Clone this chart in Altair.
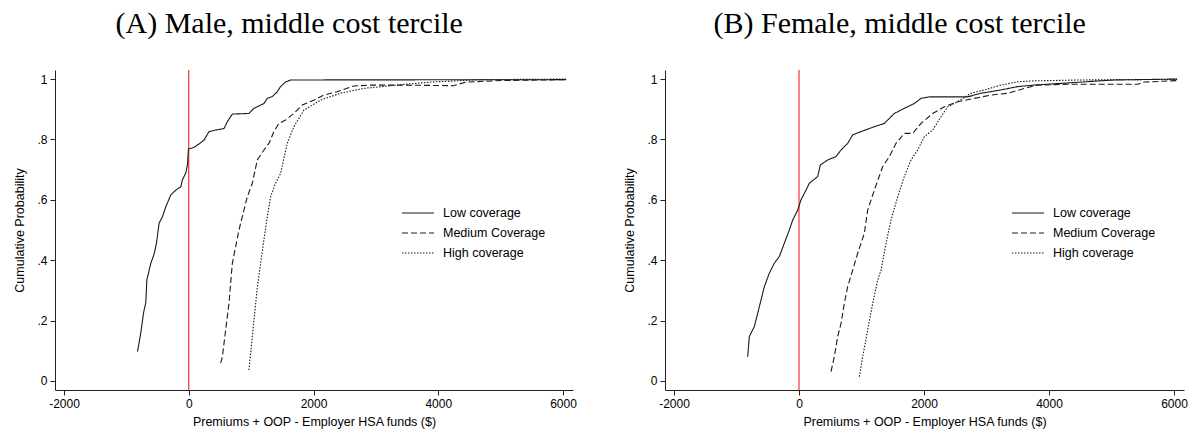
import altair as alt
import pandas as pd

# ---------------- data ----------------
SERIES = ["Low coverage", "Medium Coverage", "High coverage"]

# Panel A: Male, middle cost tercile
a_low_x = [-821, -768, -725, -688, -672, -608, -555, -517, -475, -421, -368, -288, -208, -128,
           -101, -48, -21, -5, 85, 165, 245, 325, 432, 565, 619, 699, 965, 1045, 1205, 1259,
           1339, 1419, 1472, 1552, 1632, 6050]
a_low_y = [0.097, 0.16, 0.225, 0.26, 0.334, 0.39, 0.42, 0.457, 0.523, 0.544, 0.577, 0.616, 0.632,
           0.643, 0.666, 0.689, 0.715, 0.768, 0.774, 0.785, 0.798, 0.826, 0.831, 0.836, 0.859,
           0.884, 0.886, 0.903, 0.919, 0.936, 0.942, 0.958, 0.975, 0.99, 0.997, 0.998]
a_med_x = [512, 539, 592, 645, 699, 752, 805, 885, 939, 1019, 1099, 1205, 1285, 1365, 1445, 1552,
           1685, 1819, 2005, 2165, 2379, 2645, 2912, 3440, 4240, 4450, 5000, 6050]
a_med_y = [0.059, 0.08, 0.169, 0.257, 0.39, 0.445, 0.5, 0.566, 0.61, 0.655, 0.732, 0.765, 0.787,
           0.826, 0.853, 0.864, 0.886, 0.914, 0.93, 0.947, 0.958, 0.977, 0.98, 0.98, 0.978, 0.99,
           0.995, 0.998]
a_high_x = [965, 992, 1045, 1099, 1152, 1205, 1259, 1312, 1392, 1472, 1579, 1685, 1845, 2112, 2432,
            2805, 3339, 3872, 4672, 6050]
a_high_y = [0.036, 0.091, 0.2, 0.31, 0.39, 0.467, 0.544, 0.61, 0.655, 0.687, 0.787, 0.842, 0.897,
            0.93, 0.953, 0.969, 0.98, 0.99, 0.998, 1.0]

# Panel B: Female, middle cost tercile
b_low_x = [-821, -795, -715, -661, -608, -555, -475, -395, -315, -235, -155, -101, -21, 32, 112,
           165, 299, 341, 459, 592, 672, 779, 859, 992, 1205, 1365, 1525, 1685, 1845, 1952, 2085,
           2699, 2912, 3232, 3499, 3760, 5040, 6050]
b_low_y = [0.08, 0.147, 0.18, 0.224, 0.268, 0.312, 0.357, 0.39, 0.412, 0.456, 0.5, 0.533, 0.566,
           0.6, 0.632, 0.655, 0.677, 0.715, 0.732, 0.743, 0.765, 0.787, 0.815, 0.826, 0.842, 0.853,
           0.886, 0.903, 0.919, 0.936, 0.941, 0.941, 0.953, 0.964, 0.975, 0.98, 0.997, 1.0]
b_med_x = [512, 565, 619, 672, 725, 779, 859, 939, 992, 1045, 1099, 1205, 1339, 1445, 1552, 1685,
           1819, 1952, 2139, 2325, 2539, 2805, 3072, 3339, 3605, 3819, 4352, 5424, 5520, 6050]
b_med_y = [0.031, 0.08, 0.147, 0.19, 0.257, 0.312, 0.367, 0.423, 0.456, 0.489, 0.566, 0.632, 0.71,
           0.743, 0.787, 0.82, 0.82, 0.853, 0.886, 0.908, 0.925, 0.936, 0.947, 0.953, 0.969, 0.98,
           0.983, 0.983, 0.99, 0.995]
b_high_x = [965, 1019, 1099, 1179, 1259, 1312, 1392, 1472, 1579, 1685, 1792, 1899, 2005, 2139,
            2272, 2379, 2539, 2752, 2965, 3232, 3499, 3760, 4500, 6050]
b_high_y = [0.014, 0.08, 0.169, 0.257, 0.334, 0.367, 0.456, 0.533, 0.61, 0.677, 0.732, 0.765,
            0.809, 0.831, 0.875, 0.908, 0.925, 0.953, 0.964, 0.98, 0.991, 0.994, 0.997, 0.999]

PANEL_TITLES = ["(A) Male, middle cost tercile", "(B) Female, middle cost tercile"]
X_TICKS = [-2000, 0, 2000, 4000, 6000]
Y_TICKS = [0, 0.2, 0.4, 0.6, 0.8, 1]
X_TITLE = "Premiums + OOP - Employer HSA funds ($)"
Y_TITLE = "Cumulative Probability"

# ---------------- build ----------------
def frame(series_xy):
    rows = []
    for name, xs, ys in series_xy:
        for i, (x, y) in enumerate(zip(xs, ys)):
            rows.append({"x": x, "y": y, "series": name, "order": i})
    return pd.DataFrame(rows)

SANS = "Liberation Sans"
SERIF = "Liberation Serif"

x_scale = alt.Scale(domain=[-2144, 6160], nice=False, zero=False)
y_scale = alt.Scale(domain=[-0.03, 1.03], nice=False, zero=False)


def panel(df, title, width, height):
    lines = alt.Chart(df).mark_line(strokeWidth=1.1, color="#1a1a1a", clip=True).encode(
        x=alt.X("x:Q", scale=x_scale,
                axis=alt.Axis(values=X_TICKS, title=X_TITLE, labelExpr="'' + datum.value",
                              titlePadding=6)),
        y=alt.Y("y:Q", scale=y_scale,
                axis=alt.Axis(values=Y_TICKS, title=Y_TITLE,
                              labelExpr="replace(format(datum.value, '.1~f'), '0.', '.')")),
        strokeDash=alt.StrokeDash(
            "series:N",
            scale=alt.Scale(domain=SERIES, range=[[1, 0], [6, 3], [1.5, 1.5]]),
            legend=alt.Legend(title=None, orient="none", legendX=354, legendY=134,
                              symbolType="M-2,0H2", symbolSize=256,
                              symbolStrokeWidth=1.1, symbolStrokeColor="#1a1a1a",
                              labelFont=SANS, labelFontSize=12.5, labelColor="black",
                              labelOffset=16, rowPadding=4),
        ),
        detail="series:N",
        order="order:Q",
    )
    zero = alt.Chart(pd.DataFrame({"x": [0]})).mark_rule(color="#ff1a1a", strokeWidth=1.1).encode(
        x=alt.X("x:Q", scale=x_scale)
    )
    return alt.layer(zero, lines).properties(
        width=width, height=height,
        title=alt.TitleParams(title, anchor="middle", frame="bounds", font=SERIF,
                              fontSize=30, fontWeight="normal", color="black", offset=30,
                              dx=-6),
    )


dfA = frame([(SERIES[0], a_low_x, a_low_y), (SERIES[1], a_med_x, a_med_y),
             (SERIES[2], a_high_x, a_high_y)])
dfB = frame([(SERIES[0], b_low_x, b_low_y), (SERIES[1], b_med_x, b_med_y),
             (SERIES[2], b_high_x, b_high_y)])

chart = alt.hconcat(panel(dfA, PANEL_TITLES[0], 518, 320),
                    panel(dfB, PANEL_TITLES[1], 519, 320), spacing=46).resolve_legend(
    strokeDash="independent"
).properties(
    padding={"left": 13, "top": 9, "right": 5, "bottom": 5}
).configure_view(stroke=None).configure_axis(
    grid=False, domainColor="#222", tickColor="#222", tickSize=5, labelFont=SANS,
    labelFontSize=12, labelColor="black", titleFont=SANS, titleFontSize=12.5,
    titleFontWeight="normal", titleColor="black", labelPadding=3, titlePadding=10,
).configure_axisY(labelAngle=0)

chart.save("out.html", embed_options={"renderer": "svg", "actions": False})
